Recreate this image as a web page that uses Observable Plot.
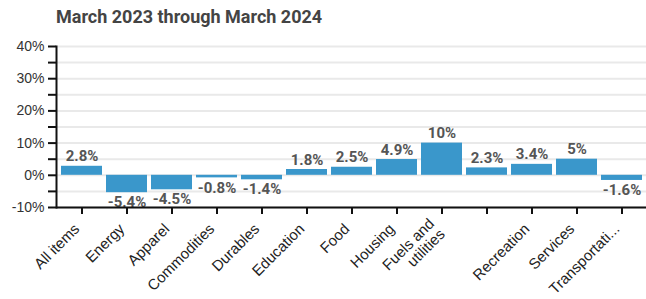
<!DOCTYPE html>
<html><head><meta charset="utf-8">
<script src="https://cdn.jsdelivr.net/npm/d3@7"></script>
<script src="https://cdn.jsdelivr.net/npm/@observablehq/plot@0.6"></script>
<style>
body{margin:0;background:#fff;}
#title{font:bold 18px Roboto, sans-serif;color:#444;height:30px;line-height:34px;padding-left:56px;white-space:nowrap;}
#chart svg{display:block;}
</style></head><body>
<div id="title"></div>
<div id="chart"></div>
<script>
const title = "March 2023 through March 2024";
const categories = ["All items","Energy","Apparel","Commodities","Durables","Education","Food","Housing","Fuels and utilities","Medical care","Recreation","Services","Transportation"];
const tickLabels = ["All items","Energy","Apparel","Commodities","Durables","Education","Food","Housing","Fuels and\nutilities","","Recreation","Services","Transportati..."];
const values = [2.8,-5.4,-4.5,-0.8,-1.4,1.8,2.5,4.9,10,2.3,3.4,5,-1.6];
const yTicks = [-10,-5,0,5,10,15,20,25,30,35,40];

document.getElementById("title").textContent = title;
const data = categories.map((c,i)=>({category:c, value:values[i]}));
const labelOf = new Map(categories.map((c,i)=>[c,tickLabels[i]]));
const fmt = v => v + "%";

const chart = Plot.plot({
  width:646, height:269, marginLeft:56, marginRight:0, marginTop:16, marginBottom:92,
  style:{fontFamily:"Arial, 'Liberation Sans', sans-serif", fontSize:"14px", color:"#333", background:"white"},
  x:{domain:categories, padding:0, label:null},
  y:{domain:[-10,40], label:null},
  marks:[
    Plot.ruleY(yTicks, {stroke:"#e9e9e9", strokeWidth:2}),
    Plot.barY(data, {x:"category", y:"value", fill:"#3a97cb", insetLeft:2, insetRight:2}),
    Plot.text(data.filter(d=>d.value>=0), {x:"category", y:"value", text:d=>fmt(d.value), dy:-5, lineAnchor:"bottom", fontWeight:"bold", fill:"#555", fontFamily:"Roboto, sans-serif", fontSize:15}),
    Plot.text(data.filter(d=>d.value<0), {x:"category", y:"value", text:d=>fmt(d.value), dy:4, lineAnchor:"top", fontWeight:"bold", fill:"#555", fontFamily:"Roboto, sans-serif", fontSize:15}),
    Plot.axisY({ticks:yTicks, tickFormat:d=> d%10===0 ? fmt(d) : "", tickSize:8, tickPadding:4, strokeWidth:2, stroke:"#111", fill:"#333", fontSize:14, label:null}),
    Plot.axisX({tickRotate:-45, tickSize:7, tickPadding:3, tickFormat:d=>labelOf.get(d), strokeWidth:2, stroke:"#111", fill:"#222", fontSize:15, label:null}),
    Plot.ruleY([-10], {stroke:"#111", strokeWidth:2}),
    Plot.frame({anchor:"left", stroke:"#111", strokeWidth:2})
  ]
});
document.getElementById("chart").appendChild(chart);
// shift rotated x tick labels so their end sits just below the tick, as in the reference
chart.querySelectorAll('g[aria-label="x-axis tick label"] text').forEach(t => {
  const tr = t.getAttribute("transform") || "";
  t.setAttribute("transform", "translate(-5,9) " + tr);
});
</script>
</body></html>
